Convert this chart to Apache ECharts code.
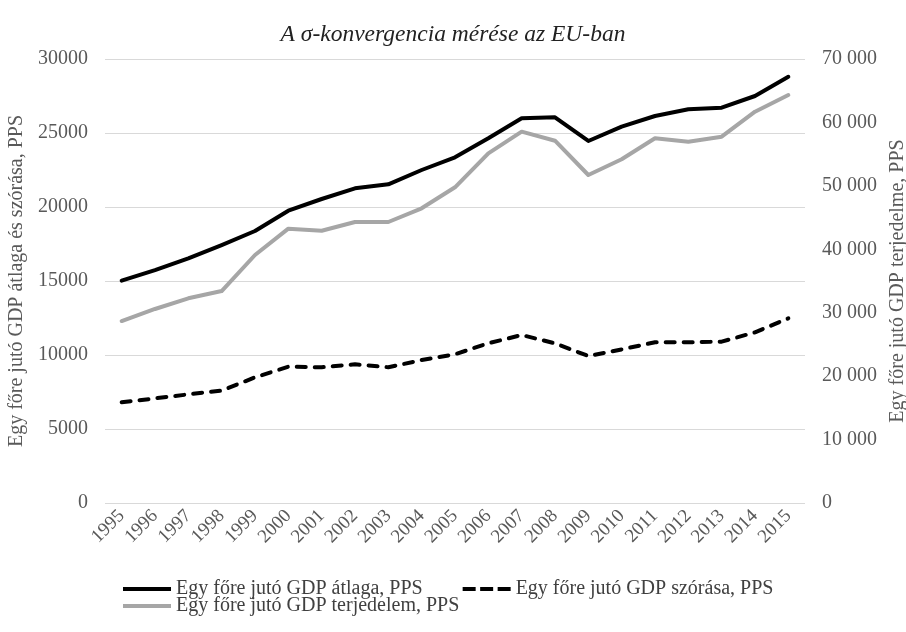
<!DOCTYPE html>
<html>
<head>
<meta charset="utf-8">
<title>A σ-konvergencia mérése az EU-ban</title>
<script src="https://cdn.jsdelivr.net/npm/echarts@6/dist/echarts.min.js"></script>
<style>
    html, body { margin: 0; padding: 0; background: #fff; }
    #chart { width: 906px; height: 632px; }
</style>
</head>
<body>
<div id="chart"></div>
<script>
// --- DATEN ---
const years = ['1995', '1996', '1997', '1998', '1999', '2000', '2001', '2002', '2003', '2004', '2005',
    '2006', '2007', '2008', '2009', '2010', '2011', '2012', '2013', '2014', '2015'];

// Átlag (bal tengely)
const gdpMean = [15020, 15740, 16530, 17430, 18380, 19750, 20540, 21260, 21530, 22500, 23360,
    24640, 26000, 26060, 24460, 25430, 26150, 26600, 26710, 27500, 28800];

// Szórás (bal tengely)
const gdpStd = [6800, 7070, 7340, 7590, 8490, 9210, 9170, 9370, 9170, 9660, 10050,
    10790, 11350, 10790, 9930, 10380, 10860, 10860, 10900, 11530, 12480];

// Terjedelem (jobb tengely)
const gdpRange = [28690, 30590, 32270, 33420, 39100, 43250, 42930, 44300, 44300, 46460, 49770,
    55130, 58540, 57120, 51710, 54190, 57500, 56960, 57750, 61690, 64320];

const seriesNames = [
    'Egy főre jutó GDP átlaga, PPS',
    'Egy főre jutó GDP szórása, PPS',
    'Egy főre jutó GDP terjedelem, PPS'
];

// --- CHART ---
const chart = echarts.init(document.getElementById('chart'));
const font = 'Liberation Serif';
const labelColor = '#595959';

// 10000 -> "10 000"
function spaced(v) {
    return String(v).replace(/\B(?=(\d{3})+(?!\d))/g, ' ');
}

// Legend-Icons: durchgehende bzw. gestrichelte Linie
const solidIcon = 'path://M0,0 L48,0 L48,4 L0,4 Z';
const dashIcon = 'path://M0,0 L13,0 L13,4 L0,4 Z M17.5,0 L30.5,0 L30.5,4 L17.5,4 Z M35,0 L48,0 L48,4 L35,4 Z';

const legendCommon = {
    left: 118,
    itemWidth: 48,
    itemHeight: 14,
    itemGap: 40,
    textStyle: { fontFamily: font, fontSize: 20, color: '#404040' }
};

chart.setOption({
    backgroundColor: '#fff',
    animation: false,
    textStyle: { fontFamily: font },
    title: {
        text: 'A σ-konvergencia mérése az EU-ban',
        left: 'center',
        top: 18,
        textStyle: { fontFamily: font, fontSize: 23.5, fontStyle: 'italic', fontWeight: 'normal', color: '#222' }
    },
    grid: { left: 105, right: 101, top: 59, bottom: 129, outerBoundsMode: 'none' },
    legend: [
        {
            ...legendCommon, top: 574,
            data: [{ name: seriesNames[0], icon: solidIcon }, { name: seriesNames[1], icon: dashIcon }]
        },
        {
            ...legendCommon, top: 591,
            data: [{ name: seriesNames[2], icon: solidIcon }]
        }
    ],
    xAxis: {
        type: 'category',
        data: years,
        boundaryGap: true,
        axisLine: { show: false },
        axisTick: { show: false },
        axisLabel: { rotate: 45, margin: 10, interval: 0, fontFamily: font, fontSize: 19, color: labelColor }
    },
    yAxis: [
        {
            type: 'value',
            min: 0,
            max: 30000,
            interval: 5000,
            name: 'Egy főre jutó GDP átlaga és szórása, PPS',
            nameLocation: 'middle',
            nameGap: 76,
            nameTextStyle: { fontFamily: font, fontSize: 20, color: labelColor },
            axisLine: { show: false },
            axisTick: { show: false },
            axisLabel: { margin: 17, fontFamily: font, fontSize: 20, color: labelColor, formatter: v => String(v) },
            splitLine: { lineStyle: { color: '#d9d9d9', width: 1 } }
        },
        {
            type: 'value',
            min: 0,
            max: 70000,
            interval: 10000,
            position: 'right',
            name: 'Egy főre jutó GDP terjedelme, PPS',
            nameLocation: 'middle',
            nameGap: 77,
            nameRotate: 90,
            nameTextStyle: { fontFamily: font, fontSize: 20, color: labelColor },
            axisLine: { show: false },
            axisTick: { show: false },
            axisLabel: { margin: 17, fontFamily: font, fontSize: 20, color: labelColor, formatter: spaced },
            splitLine: { show: false }
        }
    ],
    series: [
        {
            name: seriesNames[0], type: 'line', yAxisIndex: 0, data: gdpMean,
            symbol: 'none', color: '#000',
            lineStyle: { width: 4, color: '#000', cap: 'round', join: 'round' }
        },
        {
            name: seriesNames[1], type: 'line', yAxisIndex: 0, data: gdpStd,
            symbol: 'none', color: '#000',
            lineStyle: { width: 4, color: '#000', type: [9, 9], cap: 'round', join: 'round' }
        },
        {
            name: seriesNames[2], type: 'line', yAxisIndex: 1, data: gdpRange,
            symbol: 'none', color: '#a6a6a6',
            lineStyle: { width: 4, color: '#a6a6a6', cap: 'round', join: 'round' }
        }
    ]
});

window.addEventListener('resize', () => chart.resize());
</script>
</body>
</html>
